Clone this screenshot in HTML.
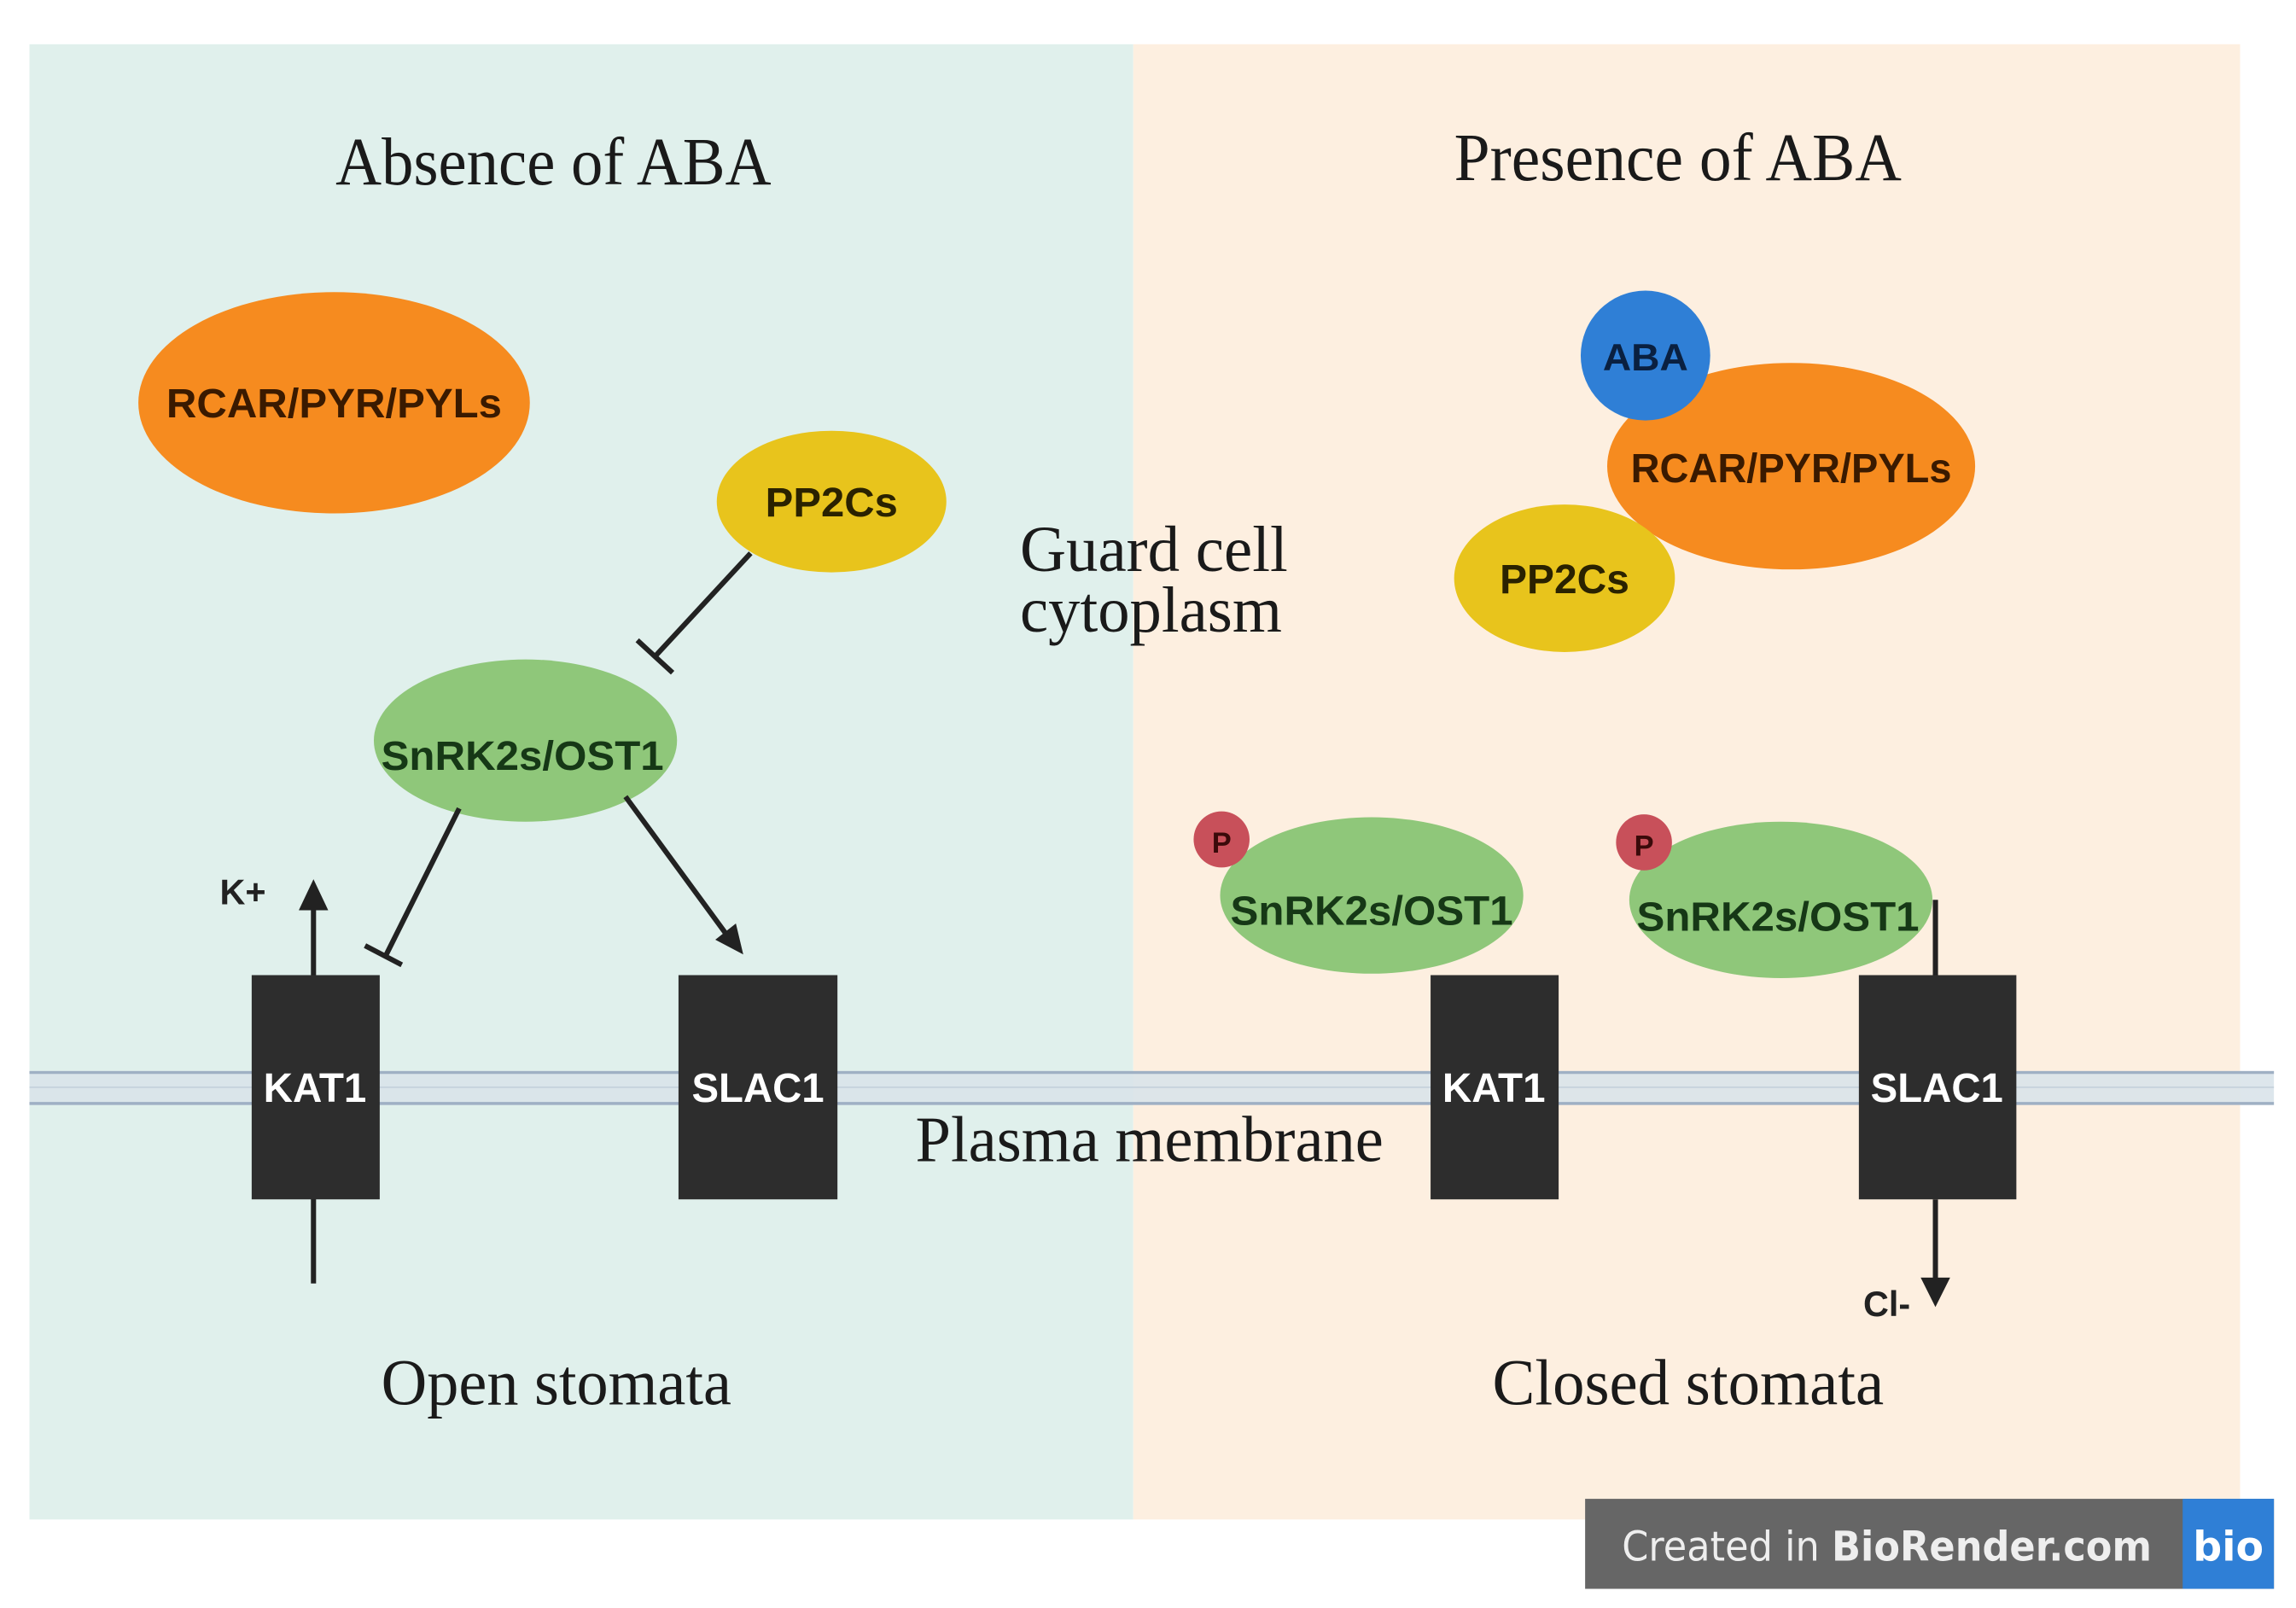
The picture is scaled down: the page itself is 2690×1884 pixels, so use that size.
<!DOCTYPE html>
<html><head><meta charset="utf-8"><style>
html,body{margin:0;padding:0;background:#fff}
svg{display:block}
.s{font-family:"Liberation Serif",serif;fill:#1a1a1a}
.b{font-family:"Liberation Sans",sans-serif;font-weight:bold}
</style></head><body>
<svg width="2690" height="1884" viewBox="0 0 1560 1090" preserveAspectRatio="none" xmlns="http://www.w3.org/2000/svg">
<rect x="0" y="0" width="1560" height="1090" fill="#fff"/>
<rect x="20" y="30" width="750" height="1000" fill="#e0f0ec"/>
<rect x="770" y="30" width="752" height="1000" fill="#fdefe0"/>
<rect x="20" y="726" width="1525" height="23" fill="#d9e3ea" opacity="0.9"/>
<line x1="20" y1="727" x2="1545" y2="727" stroke="#9fb0c4" stroke-width="2"/>
<line x1="20" y1="748" x2="1545" y2="748" stroke="#9fb0c4" stroke-width="2"/>
<line x1="20" y1="737" x2="1545" y2="737" stroke="#c5d2dc" stroke-width="1"/>

<g lengthAdjust="spacingAndGlyphs">
<text class="s" x="376" y="125" font-size="46" text-anchor="middle" textLength="296" lengthAdjust="spacingAndGlyphs">Absence of ABA</text>
<text class="s" x="1140" y="122" font-size="46" text-anchor="middle" textLength="304" lengthAdjust="spacingAndGlyphs">Presence of ABA</text>
<text class="s" x="693" y="387" font-size="44" textLength="182" lengthAdjust="spacingAndGlyphs">Guard cell</text>
<text class="s" x="693" y="428" font-size="44" textLength="178" lengthAdjust="spacingAndGlyphs">cytoplasm</text>
<text class="s" x="781" y="787" font-size="44" text-anchor="middle" textLength="318" lengthAdjust="spacingAndGlyphs">Plasma membrane</text>
<text class="s" x="378" y="952" font-size="44" text-anchor="middle" textLength="238" lengthAdjust="spacingAndGlyphs">Open stomata</text>
<text class="s" x="1147" y="952" font-size="44" text-anchor="middle" textLength="266" lengthAdjust="spacingAndGlyphs">Closed stomata</text>
</g>

<ellipse cx="227" cy="273" rx="133" ry="75" fill="#f68b1f"/>
<text class="b" x="227" y="283" font-size="28" text-anchor="middle" fill="#3a1a00" textLength="228" lengthAdjust="spacingAndGlyphs">RCAR/PYR/PYLs</text>
<ellipse cx="565" cy="340" rx="78" ry="48" fill="#e8c41c"/>
<text class="b" x="565" y="350" font-size="28" text-anchor="middle" fill="#2a2200" textLength="90" lengthAdjust="spacingAndGlyphs">PP2Cs</text>
<ellipse cx="357" cy="502" rx="103" ry="55" fill="#8fc77a"/>
<text class="b" x="355" y="522" font-size="28" text-anchor="middle" fill="#163816" textLength="192" lengthAdjust="spacingAndGlyphs">SnRK2s/OST1</text>
<g stroke="#222" stroke-width="3.5" fill="none">
<line x1="510" y1="375" x2="445" y2="445"/>
<line x1="433" y1="434" x2="457" y2="456"/>
<line x1="312" y1="548" x2="262" y2="648"/>
<line x1="248" y1="641" x2="273" y2="654"/>
<line x1="425" y1="540" x2="494" y2="634"/>
<line x1="213" y1="870" x2="213" y2="612"/>
<line x1="1315" y1="610" x2="1315" y2="661"/>
<line x1="1315" y1="813" x2="1315" y2="868"/>
</g>
<path d="M505,647 L486,637 L500,626 z" fill="#222"/>
<path d="M203,617 L213,596 L223,617 z" fill="#222"/>
<path d="M1305,866 L1315,886 L1325,866 z" fill="#222"/>
<text class="b" x="165" y="613" font-size="24" text-anchor="middle" fill="#222">K+</text>
<text class="b" x="1282" y="892" font-size="24" text-anchor="middle" fill="#222">Cl-</text>

<rect x="171" y="661" width="87" height="152" fill="#2d2d2d"/>
<text class="b" x="214" y="747" font-size="28" text-anchor="middle" fill="#fff" textLength="70" lengthAdjust="spacingAndGlyphs">KAT1</text>
<rect x="461" y="661" width="108" height="152" fill="#2d2d2d"/>
<text class="b" x="515" y="747" font-size="28" text-anchor="middle" fill="#fff" textLength="90" lengthAdjust="spacingAndGlyphs">SLAC1</text>

<ellipse cx="1217" cy="316" rx="125" ry="70" fill="#f68b1f"/>
<text class="b" x="1217" y="327" font-size="28" text-anchor="middle" fill="#3a1a00" textLength="218" lengthAdjust="spacingAndGlyphs">RCAR/PYR/PYLs</text>
<ellipse cx="1063" cy="392" rx="75" ry="50" fill="#e8c41c"/>
<text class="b" x="1063" y="402" font-size="28" text-anchor="middle" fill="#2a2200" textLength="88" lengthAdjust="spacingAndGlyphs">PP2Cs</text>
<circle cx="1118" cy="241" r="44" fill="#2f7fd6"/>
<text class="b" x="1118" y="251" font-size="26" text-anchor="middle" fill="#0a2040" textLength="58" lengthAdjust="spacingAndGlyphs">ABA</text>

<ellipse cx="932" cy="607" rx="103" ry="53" fill="#8fc77a"/>
<text class="b" x="932" y="627" font-size="28" text-anchor="middle" fill="#163816" textLength="192" lengthAdjust="spacingAndGlyphs">SnRK2s/OST1</text>
<circle cx="830" cy="569" r="19" fill="#c8505a"/>
<text class="b" x="830" y="578" font-size="20" text-anchor="middle" fill="#3a0a0a">P</text>
<ellipse cx="1210" cy="610" rx="103" ry="53" fill="#8fc77a"/>
<text class="b" x="1208" y="631" font-size="28" text-anchor="middle" fill="#163816" textLength="192" lengthAdjust="spacingAndGlyphs">SnRK2s/OST1</text>
<circle cx="1117" cy="571" r="19" fill="#c8505a"/>
<text class="b" x="1117" y="580" font-size="20" text-anchor="middle" fill="#3a0a0a">P</text>
<line x1="1315" y1="610" x2="1315" y2="661" stroke="#222" stroke-width="3.5"/>

<rect x="972" y="661" width="87" height="152" fill="#2d2d2d"/>
<text class="b" x="1015" y="747" font-size="28" text-anchor="middle" fill="#fff" textLength="70" lengthAdjust="spacingAndGlyphs">KAT1</text>
<rect x="1263" y="661" width="107" height="152" fill="#2d2d2d"/>
<text class="b" x="1316" y="747" font-size="28" text-anchor="middle" fill="#fff" textLength="90" lengthAdjust="spacingAndGlyphs">SLAC1</text>

<rect x="1077" y="1016" width="468" height="61" fill="#666"/>
<rect x="1483" y="1016" width="62" height="61" fill="#2f7fd6"/>
<text x="1102" y="1058" font-size="28" fill="#eee" font-family="'DejaVu Sans',sans-serif" textLength="360" lengthAdjust="spacingAndGlyphs">Created in <tspan font-weight="bold">BioRender.com</tspan></text>
<text x="1514" y="1058" font-size="28" fill="#fff" font-weight="bold" text-anchor="middle" font-family="'DejaVu Sans',sans-serif" textLength="48" lengthAdjust="spacingAndGlyphs">bio</text>
</svg>
</body></html>
